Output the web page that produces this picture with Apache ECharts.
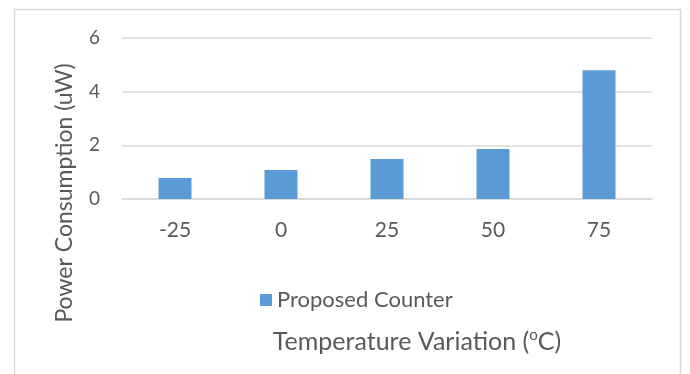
<!DOCTYPE html>
<html>
<head>
<meta charset="utf-8">
<script src="https://cdn.jsdelivr.net/npm/echarts@6/dist/echarts.min.js"></script>
<style>
  html, body { margin: 0; padding: 0; background: #ffffff; }
  #chart { width: 690px; height: 374px; }
</style>
</head>
<body>
<div id="chart"></div>
<script>
// Temperature points (°C) on the category axis
const temperatures = ['-25', '0', '25', '50', '75'];
// Power consumption of the proposed counter (uW)
const powerValues = [0.78, 1.08, 1.49, 1.86, 4.80];
const seriesName = 'Proposed Counter';
const yTicks = { min: 0, max: 6, interval: 2 };

const FONT = 'Lato';
const TEXT = '#595959';
const GRID_LINE = '#d9d9d9';

const chart = echarts.init(document.getElementById('chart'), null, { renderer: 'canvas' });

chart.setOption({
  animation: false,
  backgroundColor: '#ffffff',
  textStyle: { fontFamily: FONT, color: TEXT },
  grid: { left: 122, right: 38, top: 38, bottom: 175, containLabel: false },
  legend: {
    data: [seriesName],
    left: 255,
    top: 284,
    itemWidth: 12,
    itemHeight: 12,
    itemGap: 6,
    icon: 'rect',
    textStyle: { fontFamily: FONT, fontSize: 22, color: TEXT }
  },
  xAxis: {
    type: 'category',
    data: temperatures,
    axisLine: { show: true, lineStyle: { color: GRID_LINE, width: 1.5 } },
    axisTick: { show: false },
    axisLabel: { fontFamily: FONT, fontSize: 21, color: TEXT, margin: 21 }
  },
  yAxis: {
    type: 'value',
    min: yTicks.min,
    max: yTicks.max,
    interval: yTicks.interval,
    axisLine: { show: false },
    axisTick: { show: false },
    splitLine: { lineStyle: { color: GRID_LINE, width: 1.5 } },
    axisLabel: { fontFamily: FONT, fontSize: 19, color: TEXT, margin: 22 }
  },
  graphic: [
    {
      // outer chart frame
      type: 'rect',
      silent: true,
      shape: { x: 14.5, y: 9.5, width: 666, height: 400 },
      style: { fill: 'none', stroke: GRID_LINE, lineWidth: 1.5 }
    },
    {
      // vertical axis title, centred on the whole chart body
      type: 'text',
      silent: true,
      x: 65,
      y: 193,
      rotation: Math.PI / 2,
      style: {
        text: 'Power Consumption (uW)',
        fontFamily: FONT,
        fontSize: 23,
        fill: TEXT,
        align: 'center',
        verticalAlign: 'middle'
      }
    },
    {
      // horizontal axis title with superscript degree mark
      type: 'text',
      silent: true,
      x: 417,
      y: 342,
      style: {
        text: '{a|Temperature Variation (}{s|o}{a|C)}',
        align: 'center',
        verticalAlign: 'middle',
        rich: {
          a: { fontFamily: FONT, fontSize: 25, fill: TEXT, lineHeight: 28 },
          s: { fontFamily: FONT, fontSize: 15, fill: TEXT, lineHeight: 28, verticalAlign: 'top', padding: [0, 0, 8, 0] }
        }
      }
    }
  ],
  series: [
    {
      name: seriesName,
      type: 'bar',
      data: powerValues,
      barWidth: 33,
      itemStyle: { color: '#5b9bd5' }
    }
  ]
});
</script>
</body>
</html>
